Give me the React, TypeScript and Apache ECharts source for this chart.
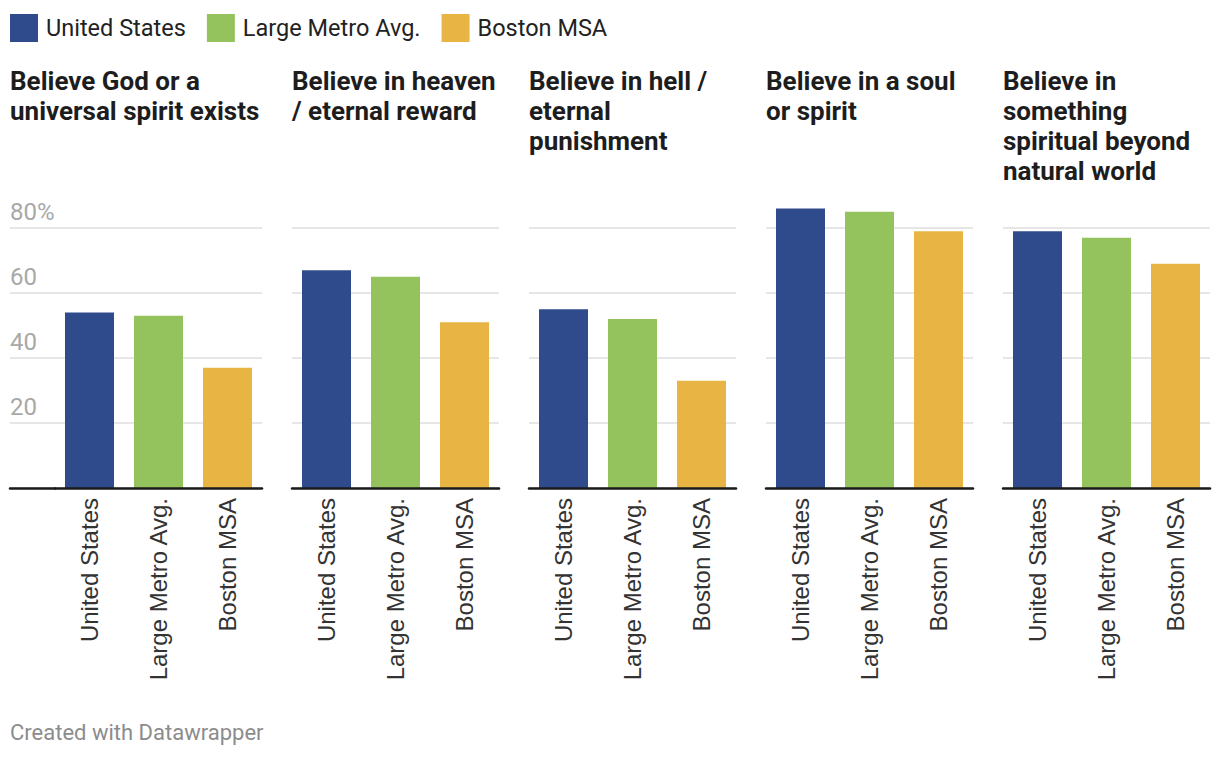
import React, { useEffect, useRef } from "react";
import * as echarts from "echarts";

const groups = ["United States", "Large Metro Avg.", "Boston MSA"];
const groupColors = ["#304b8c", "#94c35e", "#e8b444"];
const panelTitles = [
  "Believe God or a\nuniversal spirit exists",
  "Believe in heaven\n/ eternal reward",
  "Believe in hell /\neternal\npunishment",
  "Believe in a soul\nor spirit",
  "Believe in\nsomething\nspiritual beyond\nnatural world",
];
const unitedStates = [54, 67, 55, 86, 79];
const largeMetroAvg = [53, 65, 52, 85, 77];
const bostonMSA = [37, 51, 33, 79, 69];
const yMin = 0;
const yMax = 80;
const yInterval = 20;
const footerText = "Created with Datawrapper";

const seriesValues = [unitedStates, largeMetroAvg, bostonMSA];

const PLOT_LEFT = 55;
const STEP = 237;
const PLOT_W = 207;
const TOP = 228;
const PLOT_H = 260;

const gridLineStyle = { color: "#e6e6e6", width: 2 };
const baseLineStyle = { color: "#1a1a1a", width: 2.5 };

export default function App() {
  const ref = useRef<HTMLDivElement>(null);
  useEffect(() => {
    document.body.style.margin = "0";
    if (!ref.current) return;
    const chart = echarts.init(ref.current, undefined, { renderer: "svg" });

    const grids: any[] = [];
    const xAxes: any[] = [];
    const yAxes: any[] = [];
    const series: any[] = [];

    panelTitles.forEach((_, p) => {
      grids.push({ left: PLOT_LEFT + STEP * p, top: TOP, width: PLOT_W, height: PLOT_H });
      xAxes.push({
        type: "category",
        gridIndex: p,
        data: groups,
        axisLine: { lineStyle: baseLineStyle },
        axisTick: { show: false },
        axisLabel: {
          rotate: 90,
          interval: 0,
          margin: 10,
          fontSize: 24,
          fontFamily: "Liberation Sans",
          color: "#333",
        },
        z: 5,
      });
      yAxes.push({
        type: "value",
        gridIndex: p,
        min: yMin,
        max: yMax,
        interval: yInterval,
        axisLabel: { show: false },
        axisLine: { show: false },
        axisTick: { show: false },
        splitLine: { lineStyle: gridLineStyle },
      });
      groups.forEach((g, gi) => {
        series.push({
          type: "bar",
          name: g,
          xAxisIndex: p,
          yAxisIndex: p,
          stack: "panel" + p,
          barWidth: 49,
          clip: false,
          itemStyle: { color: groupColors[gi] },
          data: groups.map((_, ci) => (ci === gi ? seriesValues[gi][p] : "-")),
        });
      });
    });

    // left label strip for first panel
    const stripIdx = panelTitles.length;
    grids.push({ left: 10, top: TOP, width: PLOT_LEFT - 10, height: PLOT_H });
    xAxes.push({
      type: "category",
      gridIndex: stripIdx,
      data: [""],
      axisLine: { lineStyle: baseLineStyle },
      axisTick: { show: false },
      axisLabel: { show: false },
      z: 5,
    });
    yAxes.push({
      type: "value",
      gridIndex: stripIdx,
      min: yMin,
      max: yMax,
      interval: yInterval,
      axisLine: { show: false },
      axisTick: { show: false },
      splitLine: { lineStyle: gridLineStyle },
      axisLabel: {
        inside: true,
        align: "left",
        verticalAlign: "bottom",
        margin: 0,
        padding: [0, 0, 4, 0],
        fontSize: 24,
        fontFamily: "Roboto",
        color: "#a8a8a8",
        formatter: (v: number) => (v === yMin ? "" : v === yMax ? v + "%" : String(v)),
      },
    });

    chart.setOption({
      animation: false,
      backgroundColor: "#ffffff",
      legend: {
        data: groups,
        left: 10,
        top: 14,
        padding: 0,
        itemWidth: 28,
        itemHeight: 28,
        itemGap: 21,
        icon: "rect",
        selectedMode: false,
        textStyle: { fontSize: 23.5, color: "#222", fontFamily: "Roboto", padding: [0, 0, 0, 3] },
      },
      title: panelTitles.map((t, p) => ({
        text: t,
        left: p === 0 ? 10 : PLOT_LEFT + STEP * p,
        top: 66,
        padding: 0,
        textStyle: {
          fontSize: 26,
          fontWeight: "bold",
          lineHeight: 30,
          color: "#1d1d1d",
          fontFamily: "Roboto",
        },
      })),
      grid: grids,
      xAxis: xAxes,
      yAxis: yAxes,
      series,
      graphic: [
        {
          type: "text",
          left: 10,
          top: 721,
          style: { text: footerText, fontSize: 22, fill: "#8c8c8c", fontFamily: "Roboto" },
        },
      ],
    });
    return () => chart.dispose();
  }, []);
  return <div ref={ref} style={{ width: 1220, height: 758 }} />;
}
